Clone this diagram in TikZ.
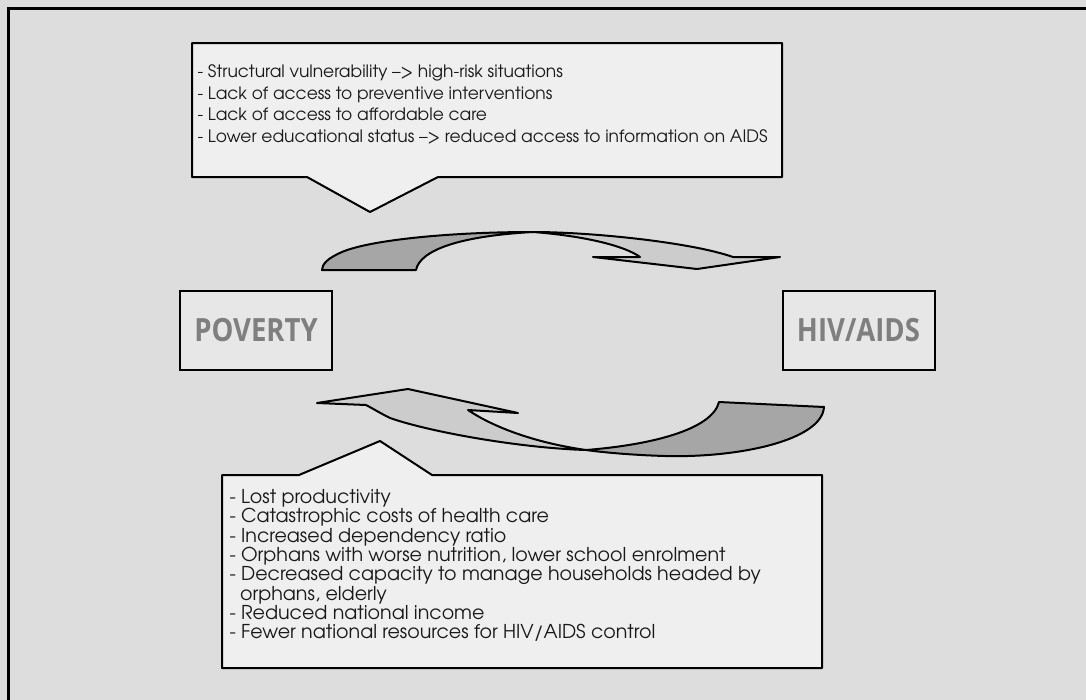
\documentclass[tikz,border=0pt]{standalone}
\usepackage{fontspec}
\usepackage{graphicx}
\setmainfont{TeX Gyre Adventor}
\newfontfamily\boxfont{Open Sans}
\definecolor{slidebg}{HTML}{DDDDDD}
\definecolor{calloutfill}{HTML}{EFEFEF}
\definecolor{boxfill}{HTML}{E7E7E7}
\definecolor{boxtext}{HTML}{7F7F7F}
\definecolor{arrowdark}{HTML}{A6A6A6}
\definecolor{arrowlight}{HTML}{CCCCCC}

\newcommand{\narrowlabel}[1]{\scalebox{0.86}[1]{#1}}

\tikzset{every picture/.style={line width=0.75pt}}
\tikzset{
  listtext/.style={anchor=north west, align=left, inner sep=0pt, text=black!90, font=\fontsize{12.8}{16.3}\selectfont},
  bigbox/.style={draw, line width=1.5pt, fill=boxfill, text=boxtext, minimum width=114pt, minimum height=59pt, font=\boxfont\bfseries\fontsize{24}{28}\selectfont},
  outline/.style={draw, line width=1.5pt, line join=round}
}

\begin{document}
\begin{tikzpicture}[x=0.75pt,y=0.75pt,yscale=-1,xscale=1]
    \useasboundingbox (0,0) rectangle (1086,700);

    %Shape: Slide background
    \fill [slidebg] (0,0) rectangle (1086,700);
    \draw [line width=2.25pt] (8,760) -- (8,8) -- (1160,8) ;

    %Shape: Callout (causes)
    \draw [outline, fill=calloutfill] (192,43) -- (782,43) -- (782,177) -- (438,177) -- (370,212) -- (307,177) -- (192,177) -- cycle ;
    %Shape: Callout (consequences)
    \draw [outline, fill=calloutfill] (222,475) -- (299,475) -- (380,441) -- (432,475) -- (822,475) -- (822,668) -- (222,668) -- cycle ;

    %Curved Arrow (upper), front face
    \draw [outline, fill=arrowlight] (533,232) .. controls (590,232) and (690,242) .. (733,257) -- (780,257) -- (697,269) -- (593,257) -- (640,257) .. controls (625,246) and (585,236) .. (533,232) -- cycle ;
    %Curved Arrow (upper), back face
    \draw [outline, fill=arrowdark] (322,270) -- (416,270) .. controls (420,250) and (460,236) .. (533,232) .. controls (450,232) and (370,240) .. (342,252) .. controls (328,258) and (322,264) .. (322,270) -- cycle ;

    %Curved Arrow (lower), front face
    \draw [outline, fill=arrowlight] (317,403) -- (408,389) -- (518,413) -- (468,410) .. controls (490,425) and (530,442) .. (586,450) .. controls (520,448) and (430,432) .. (390,418) .. controls (378,412) and (372,408) .. (366,405) -- cycle ;
    %Curved Arrow (lower), back face
    \draw [outline, fill=arrowdark] (586,450) .. controls (650,445) and (712,430) .. (719,402) -- (824,407) .. controls (822,440) and (740,458) .. (665,456) .. controls (630,455) and (600,452) .. (586,450) -- cycle ;

    % Text Node
    \node (poverty) [bigbox] at (256,330.5) {\narrowlabel{POVERTY}};
    % Text Node
    \node (hivaids) [bigbox] at (858.5,330.5) {\narrowlabel{HIV/AIDS}};

    % Text Node
    \node (causes) [listtext] at (197,64) {- Structural vulnerability –> high-risk situations\\- Lack of access to preventive interventions\\- Lack of access to affordable care\\- Lower educational status –> reduced access to information on AIDS};
    % Text Node
    \node (effects) [listtext, font=\fontsize{14.3}{14.5}\selectfont] at (229,489) {- Lost productivity\\- Catastrophic costs of health care\\- Increased dependency ratio\\- Orphans with worse nutrition, lower school enrolment\\- Decreased capacity to manage households headed by\\\ \ orphans, elderly\\- Reduced national income\\- Fewer national resources for HIV/AIDS control};
\end{tikzpicture}
\end{document}
